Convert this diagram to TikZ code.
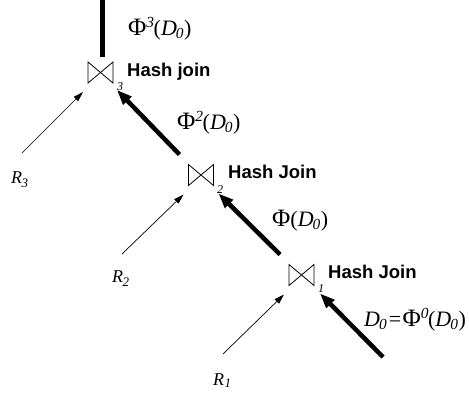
\documentclass[tikz,border=0pt]{standalone}
\usepackage{fontspec}
\setmainfont{Liberation Serif}
\newfontfamily\hfont{Liberation Sans}
\usetikzlibrary{arrows.meta}
\newcommand{\bigphi}{{\fontsize{25}{25}\selectfont\char"03A6}}
\newcommand{\dsub}{\textit{D}\kern-1pt\textsubscript{\textit{0}}}
\newcommand{\phil}[1]{\fontsize{22}{22}\selectfont\bigphi\textsuperscript{\textit{#1}}\kern-1pt(\dsub)}
\begin{document}
\begin{tikzpicture}[x=1pt,y=-1pt,
  joinbox/.style={minimum width=25pt,minimum height=21pt,inner sep=0pt,outer sep=0pt},
  hj/.style={anchor=base west,inner sep=0pt,font=\hfont\bfseries\fontsize{18.5}{18.5}\selectfont},
  rlab/.style={anchor=base west,inner sep=0pt,font=\fontsize{18}{18}\selectfont},
  sublab/.style={anchor=base west,inner sep=0pt,font=\itshape\fontsize{12}{12}\selectfont},
  philab/.style={anchor=base west,inner sep=0pt},
  thinarrow/.style={line width=0.7pt,-{Triangle[length=10pt,width=6pt]}},
  thickarrow/.style={line width=4.5pt,-{Triangle[length=15pt,width=11pt]}},
  bow/.style={line width=0.8pt}]
\useasboundingbox (0,0) rectangle (469,397);

% join nodes
\node[joinbox] (j3) at (100.5,72.5) {};
\node[joinbox] (j2) at (201,175) {};
\node[joinbox] (j1) at (301.5,275) {};
\foreach \j in {j1,j2,j3}{
  \draw[bow] (\j.north west) -- (\j.south east) -- (\j.north east) -- (\j.south west) -- cycle;
}

% subscripts
\node[sublab] (s3) at (117,90) {3};
\node[sublab] (s2) at (217,193) {2};
\node[sublab] (s1) at (318,292) {1};

% Hash join labels
\node[hj] (h3) at (127,76) {Hash join};
\node[hj] (h2) at (228,178) {Hash Join};
\node[hj] (h1) at (328,278) {Hash Join};

% relation labels
\node[rlab] (r3) at (11,183) {\textit{R}\kern-0.5pt\raisebox{-4pt}{\fontsize{13}{13}\selectfont\textit{3}}};
\node[rlab] (r2) at (112,282) {\textit{R}\kern-0.5pt\raisebox{-4pt}{\fontsize{13}{13}\selectfont\textit{2}}};
\node[rlab] (r1) at (213,385) {\textit{R}\kern0.5pt\raisebox{-2pt}{\fontsize{13}{13}\selectfont\textit{1}}};

% phi labels
\node[philab] (p3) at (128,35) {\phil{3}};
\node[philab] (p2) at (177,129) {\phil{2}};
\node[philab] (p1) at (272,226) {\fontsize{22}{22}\selectfont\bigphi(\dsub)};
\node[philab] (p0) at (364,326) {\fontsize{22}{22}\selectfont\dsub\kern1.5pt=\kern1.5pt\bigphi\textsuperscript{\textit{0}}\kern-1pt(\dsub)};

% free ends
\coordinate (top) at (102.5,0);
\coordinate (a3) at (22,153);
\coordinate (a2) at (122,254);
\coordinate (a1) at (223,354);
\coordinate (b0) at (383,357);

% connectors
\draw[line width=4.5pt] ([xshift=2pt,yshift=5pt]j3.north) -- (top);
\draw[thinarrow] (a3) -- ([shift={(-5pt,-9pt)}]j3.south west);
\draw[thinarrow] (a2) -- ([shift={(-5pt,-9pt)}]j2.south west);
\draw[thinarrow] (a1) -- ([shift={(-5pt,-9pt)}]j1.south west);
\draw[thickarrow] ([shift={(-9pt,10pt)}]j2.north west) -- ([shift={(4pt,-7pt)}]j3.south east);
\draw[thickarrow] ([shift={(-9pt,10pt)}]j1.north west) -- ([shift={(5pt,-8pt)}]j2.south east);
\draw[thickarrow] (b0) -- ([shift={(6pt,-8pt)}]j1.south east);
\end{tikzpicture}
\end{document}
